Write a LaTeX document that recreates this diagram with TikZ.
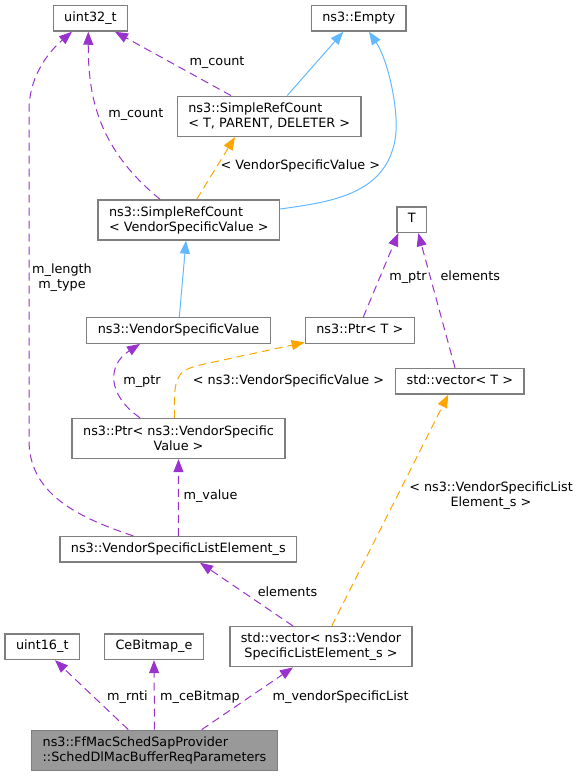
\documentclass[tikz,border=0pt]{standalone}
\usepackage{fontspec}
\setmainfont{DejaVu Sans}
\usepackage{xcolor}
\usepackage{tikz}
\usetikzlibrary{arrows.meta}
\definecolor{edgepurple}{HTML}{9A32CD}
\definecolor{edgeorange}{HTML}{FFA500}
\definecolor{edgeblue}{HTML}{63B8FF}
\definecolor{boxgray}{HTML}{7F7F7F}
\definecolor{mainfill}{HTML}{999999}

\begin{document}
\begin{tikzpicture}[x=1pt, y=-1pt,
% common options for the class boxes:
cls/.style = {draw=boxgray, line width=1.4pt, fill=white, inner xsep=11pt,
            inner ysep=6.5pt, text height=9.5pt, text depth=3pt,
            font=\fontsize{12.8}{15}\selectfont},
cls2/.style = {draw=boxgray, line width=1.4pt, fill=white, inner xsep=11pt,
            inner ysep=0pt, minimum height=40pt,
            font=\fontsize{12.8}{15}\selectfont},
% common options for the edge labels:
lbl/.style = {inner sep=0, text height=9.5pt, text depth=3pt,
            font=\fontsize{12.8}{15}\selectfont},
lbl2/.style = {inner sep=0, align=center, font=\fontsize{12.8}{15}\selectfont},
% common options for the edges:
member/.style = {edgepurple, line width=1pt, dash pattern=on 8pt off 5pt,
            -{Triangle[length=13pt,width=10pt]}},
templ/.style = {edgeorange, line width=1pt, dash pattern=on 8pt off 5pt,
            -{Triangle[length=13pt,width=10pt]}},
inherit/.style = {edgeblue, line width=1pt, -{Triangle[length=13pt,width=10pt]}}]
\useasboundingbox (0,0) rectangle (580,776);
\node[cls] (u32) at (90.5,18.3) {uint32\_t};
\node[cls] (empty) at (358.7,18.3) {ns3::Empty};
\node[cls2,align=left] (srcT) at (269.2,116.3) {ns3::SimpleRefCount\\< T, PARENT, DELETER >};
\node[cls2,align=left] (srcV) at (188.8,220) {ns3::SimpleRefCount\\< VendorSpecificValue >};
\node[cls] (T) at (411.8,219.7) {T};
\node[cls] (vsv) at (178.5,330.5) {ns3::VendorSpecificValue};
\node[cls] (ptrT) at (359.8,330.5) {ns3::Ptr< T >};
\node[cls] (vecT) at (459.8,381.2) {std::vector< T >};
\node[cls2,align=center] (ptrV) at (178.5,438.5) {ns3::Ptr< ns3::VendorSpecific\\Value >};
\node[cls] (elem) at (178.3,549.3) {ns3::VendorSpecificListElement\_s};
\node[cls] (u16) at (42.3,646.7) {uint16\_t};
\node[cls] (ce) at (154,646.7) {CeBitmap\_e};
\node[cls2,align=center] (vecE) at (321,646.7) {std::vector< ns3::Vendor\\SpecificListElement\_s >};
\node[cls2,align=left,fill=mainfill] (main) at (154.5,750.3) {ns3::FfMacSchedSapProvider\\::SchedDlMacBufferReqParameters};
% edges
\draw[member] ([xshift=-38.2pt]srcT.north) -- ([xshift=24.5pt]u32.south);
\draw[inherit] ([xshift=18pt]srcT.north) -- ([xshift=-15.4pt]empty.south);
\draw[inherit] ([yshift=11pt]srcV.east) .. controls (330,202) and (385,195) .. (395,140)
    .. controls (400,112.5) and (388,60) .. ([xshift=10.3pt]empty.south);
\draw[member] ([xshift=-28.8pt]srcV.north) .. controls (100,150) and (88,100) .. ([xshift=-2.2pt]u32.south);
\draw[templ] ([xshift=7.9pt]srcV.north) -- ([xshift=-34.2pt]srcT.south);
\draw[member] ([xshift=-45pt]elem.north) .. controls (70,515) and (29,490) .. (29,440) -- (29,110)
    .. controls (29,80) and (45,55) .. ([xshift=-18.5pt]u32.south);
\draw[inherit] ([xshift=0.8pt]vsv.north) -- ([xshift=-2.8pt]srcV.south);
\draw[member] ([xshift=-38.5pt]ptrV.north) .. controls (107,395) and (107,365) .. ([xshift=-38.5pt]vsv.south);
\draw[templ] ([xshift=-4.2pt]ptrV.north) -- (174.5,400) .. controls (175,375) and (180,370) .. (200,365)
    -- ([yshift=1.6pt]ptrT.south west);
\draw[member] ([xshift=3.5pt]ptrT.north) -- ([xshift=-13.5pt]T.south);
\draw[member] ([xshift=-4.8pt]vecT.north) -- ([xshift=6.5pt]T.south);
\draw[member] (elem.north) -- (ptrV.south);
\draw[member] ([xshift=-28pt]vecE.north) -- ([xshift=21.7pt]elem.south);
\draw[templ] ([xshift=10.7pt]vecE.north) -- ([xshift=-11.5pt]vecT.south);
\draw[member] ([xshift=-26.2pt]main.north) -- ([xshift=12.7pt]u16.south);
\draw[member] (main.north) -- (ce.south);
\draw[member] ([xshift=47.2pt]main.north) -- ([xshift=-28pt]vecE.south);
% labels
\node[lbl] (lcountT) at (217,62.3) {m\_count};
\node[lbl] (lcountV) at (135.8,114.3) {m\_count};
\node[lbl] (lvsv) at (300.3,166) {< VendorSpecificValue >};
\node[lbl2] (llength) at (62,278) {m\_length\\m\_type};
\node[lbl] (lptrV) at (142,381) {m\_ptr};
\node[lbl] (lptrVSV) at (288.5,381) {< ns3::VendorSpecificValue >};
\node[lbl] (lptrT) at (408,277.7) {m\_ptr};
\node[lbl] (lelemT) at (470.3,277.7) {elements};
\node[lbl] (lvalue) at (210.5,496.7) {m\_value};
\node[lbl2] (lvecE) at (491,495.8) {< ns3::VendorSpecificList\\Element\_s >};
\node[lbl] (lelemE) at (287.5,593) {elements};
\node[lbl] (lrnti) at (127.5,697.7) {m\_rnti};
\node[lbl] (lce) at (200,697.7) {m\_ceBitmap};
\node[lbl] (lvend) at (340.6,697.7) {m\_vendorSpecificList};
\end{tikzpicture}
\end{document}
